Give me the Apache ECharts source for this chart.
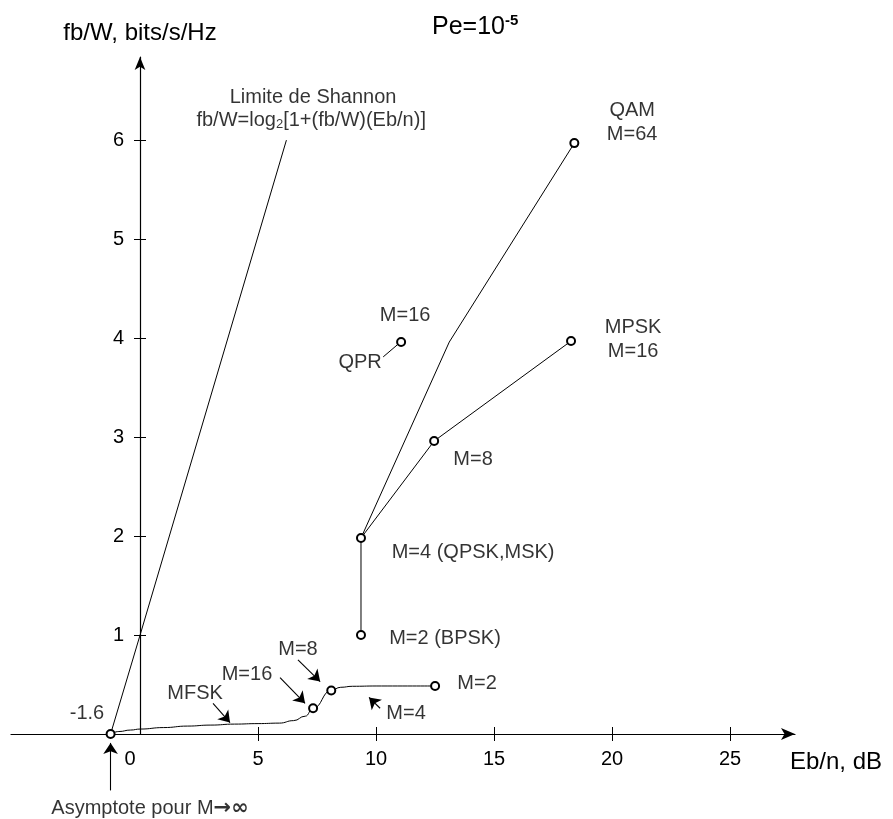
<!DOCTYPE html>
<html lang="fr">
<head>
<meta charset="utf-8">
<title>Efficacité spectrale</title>
<script src="https://cdn.jsdelivr.net/npm/echarts@6/dist/echarts.min.js"></script>
<style>html,body{margin:0;background:#fff;}</style>
</head>
<body>
<div id="main" style="width:893px;height:819px;"></div>
<script type="text/javascript">
var font = '"Liberation Sans", Arial, Helvetica, sans-serif';
var ink = '#000';

// axis ticks
var xTicks = [0, 5, 10, 15, 20, 25];
var xTickMarks = [5, 10, 15, 20, 25];
var yTicks = [1, 2, 3, 4, 5, 6];

// curves (Eb/n dB, fb/W)
var shannon = [[-1.25, 0], [0, 1], [6.2, 6]];
var mfsk = [[-1.25, 0], [-0.9, 0.025], [-0.4, 0.04], [0, 0.05], [1, 0.065], [2, 0.08],
            [3, 0.09], [4, 0.1], [5, 0.105], [5.9, 0.11], [6.5, 0.135], [7, 0.18],
            [7.33, 0.26], [8.1, 0.44], [8.5, 0.472], [9, 0.482], [10, 0.485], [12.5, 0.485]];
var mfskMarked = [0, 12, 13, 17];
var psk = [[9.36, 1], [9.36, 1.98], [12.46, 2.96], [18.26, 3.97]];
var qam = [[9.36, 1.98], [13.1, 3.96], [18.4, 5.97]];
var qamMarked = [2];
var qpr = [[11.06, 3.96]];

// annotations and arrows, in data coordinates
var notes = [
    ['Limite de Shannon', 7.33, 6.43],
    ['fb/W=log{sub|2}[1+(fb/W)(Eb/n)]', 7.25, 6.2],
    ['QAM\nM=64', 20.85, 6.18],
    ['MPSK\nM=16', 20.89, 3.985],
    ['M=16', 11.23, 4.23],
    ['QPR', 9.32, 3.75],
    ['M=8', 14.11, 2.77],
    ['M=4 (QPSK,MSK)', 14.11, 1.83],
    ['M=2 (BPSK)', 12.92, 0.97],
    ['M=2', 14.28, 0.515],
    ['M=4', 11.27, 0.21],
    ['M=8', 6.69, 0.85],
    ['M=16', 4.53, 0.6],
    ['MFSK', 2.33, 0.41],
    ['-1.6', -2.25, 0.21],
    ['Asymptote pour M{sym|\u2192\u221e}', 0.42, -0.75]
];
var arrows = [
    [[3.09, 0.31], [3.81, 0.115]],
    [[5.93, 0.57], [6.99, 0.31]],
    [[6.69, 0.75], [7.63, 0.53]],
    [[10.17, 0.26], [9.7, 0.37]],
    [[-1.25, -0.57], [-1.25, -0.09]]
];
var qprLeader = [[[10.3, 3.81], [10.89, 3.93]]];

function items(points, marked) {
    return points.map(function (p, i) {
        return { value: p, symbol: (!marked || marked.indexOf(i) >= 0) ? 'emptyCircle' : 'none' };
    });
}

var myChart = echarts.init(document.getElementById('main'));

var xmin = -5.47, xmax = 27.75, ymax = 6.84;

function lineSeries(data, z) {
    return {
        type: 'line', data: data, smooth: false, symbolSize: 8, z: z || 2,
        lineStyle: { color: ink, width: 1 },
        itemStyle: { color: ink, borderWidth: 1 },
        emphasis: { disabled: true }
    };
}

var option = {
    animation: false,
    title: {
        text: '{a|Pe=10}{s|-5}',
        left: 427, top: 8,
        textStyle: {
            rich: {
                a: { fontSize: 25, fontFamily: font, color: ink, fontWeight: 'normal' },
                s: { fontSize: 15, fontFamily: font, color: ink, padding: [0, 0, 14, 0] }
            }
        }
    },
    grid: { left: 11, right: 98, top: 57, bottom: 85 },
    xAxis: [{
        type: 'value', min: xmin, max: xmax,
        splitLine: { show: false },
        axisLine: { onZero: false, symbol: ['none', 'arrow'], symbolSize: [9, 14], lineStyle: { color: ink, width: 1.2 } },
        axisTick: { customValues: xTickMarks, length: 7, lineStyle: { color: ink } },
        axisLabel: {
            customValues: xTicks, margin: 15, fontSize: 20, color: ink, fontFamily: font,
            formatter: function (v) { return v === 0 ? '{z|0}' : String(v); },
            rich: { z: { fontSize: 20, color: ink, fontFamily: font, padding: [0, 20, 0, 0] } }
        },
        name: 'Eb/n, dB', nameLocation: 'end', nameGap: -5,
        nameTextStyle: { fontSize: 24, color: ink, fontFamily: font, align: 'left', verticalAlign: 'top', padding: [16, 0, 0, 0] }
    }, {
        type: 'value', min: xmin, max: xmax, position: 'bottom',
        splitLine: { show: false }, axisLine: { show: false, onZero: false },
        axisTick: { customValues: xTickMarks, inside: true, length: 7, lineStyle: { color: ink } },
        axisLabel: { show: false }
    }],
    yAxis: [{
        type: 'value', min: 0, max: ymax, position: 'left', offset: -129,
        splitLine: { show: false },
        axisLine: { onZero: false, symbol: ['none', 'arrow'], symbolSize: [8, 13], lineStyle: { color: ink, width: 1.2 } },
        axisTick: { customValues: yTicks, length: 6, lineStyle: { color: ink } },
        axisLabel: { customValues: yTicks, margin: 16, fontSize: 20, color: ink, fontFamily: font },
        name: 'fb/W, bits/s/Hz', nameLocation: 'end', nameGap: 12,
        nameTextStyle: { fontSize: 24, color: ink, fontFamily: font, align: 'center' }
    }, {
        type: 'value', min: 0, max: ymax, position: 'left', offset: -129,
        splitLine: { show: false }, axisLine: { show: false, onZero: false },
        axisTick: { customValues: yTicks, inside: true, length: 6, lineStyle: { color: ink } },
        axisLabel: { show: false }
    }],
    series: [
        lineSeries(items(shannon, [])),
        Object.assign(lineSeries(items(mfsk, mfskMarked), 3), { smooth: 0.5, smoothMonotone: 'x' }),
        lineSeries(items(qam, qamMarked), 2),
        lineSeries(items(psk), 3),
        lineSeries(items(qpr), 3),
        {
            type: 'lines', coordinateSystem: 'cartesian2d', clip: false,
            symbol: ['none', 'arrow'], symbolSize: 11,
            lineStyle: { color: ink, width: 1.1, opacity: 1 },
            data: arrows.map(function (a) { return { coords: a }; })
        },
        {
            type: 'lines', coordinateSystem: 'cartesian2d', clip: false,
            symbol: 'none',
            lineStyle: { color: ink, width: 1, opacity: 1 },
            data: qprLeader.map(function (a) { return { coords: a }; })
        },
        {
            type: 'scatter', clip: false, symbolSize: 0, z: 5,
            silent: true,
            label: {
                show: true, position: 'inside', color: ink, fontSize: 20, fontFamily: font,
                lineHeight: 24, align: 'center', verticalAlign: 'middle',
                formatter: function (p) { return p.data.name; },
                rich: {
                    sub: { fontSize: 13, color: ink, fontFamily: font, padding: [9, 0, 0, 0] },
                    sym: { fontSize: 21, color: ink, fontFamily: '"DejaVu Sans", sans-serif', fontWeight: 'bold' }
                }
            },
            data: notes.map(function (n) { return { name: n[0], value: [n[1], n[2]] }; })
        }
    ]
};

myChart.setOption(option);
</script>
</body>
</html>
